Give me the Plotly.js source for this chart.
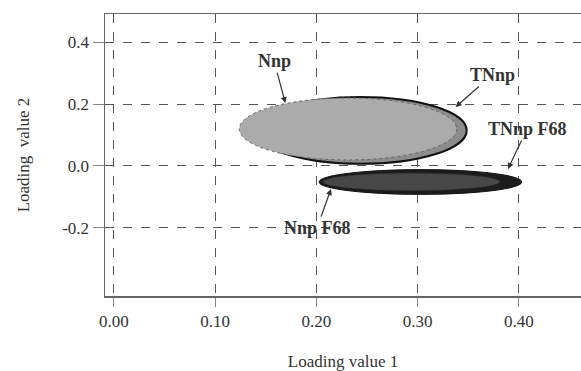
<!DOCTYPE html>
<html>
<head>
<meta charset="utf-8">
<script src="https://cdn.plot.ly/plotly-3.0.1.min.js"></script>
<style>html,body{margin:0;padding:0;background:#fff;}#chart{width:581px;height:371px;}</style>
</head>
<body>
<div id="chart"></div>
<script>
// Ellipse groups (drawn back to front)
var groupNames   = ["TNnp", "Nnp", "TNnp F68", "Nnp F68"];
var centerX      = [0.2439, 0.2312, 0.3027, 0.2939];
var centerY      = [0.115, 0.1196, -0.0517, -0.0512];
var halfWidth    = [0.1045, 0.1074, 0.1001, 0.0874];
var halfHeight   = [0.108, 0.100, 0.040, 0.0286];

// Labels with arrows: label position and arrow tip
var labelText = ["Nnp", "TNnp", "TNnp F68", "Nnp F68"];
var labelX    = [0.1582, 0.3734, 0.4080, 0.2006];
var labelY    = [0.339, 0.294, 0.1195, -0.2003];
var tipX      = [0.1693, 0.3374, 0.3892, 0.2144];
var tipY      = [0.2036, 0.1906, -0.0097, -0.0743];

// Tick labels
var xTickVals = [0.00, 0.10, 0.20, 0.30, 0.40];
var xTickText = ["0.00", "0.10", "0.20", "0.30", "0.40"];
var yTickVals = [-0.2, 0.0, 0.2, 0.4];
var yTickText = ["-0.2", "0.0", "0.2", "0.4"];

var fills  = ["#8c8c8c", "#ababab", "#1c1c1c", "#474747"];
var lines  = ["#111111", "#666666", "#111111", "#2a2a2a"];
var widths = [2, 1, 1, 0.5];
var dashes = ["solid", "dot", "solid", "solid"];

var shapes = groupNames.map(function (n, i) {
  return {
    type: "circle", xref: "x", yref: "y", layer: "above",
    x0: centerX[i] - halfWidth[i], x1: centerX[i] + halfWidth[i],
    y0: centerY[i] - halfHeight[i], y1: centerY[i] + halfHeight[i],
    fillcolor: fills[i],
    line: {color: lines[i], width: widths[i], dash: dashes[i]}
  };
});

var annotations = labelText.map(function (t, i) {
  return {
    text: "<b>" + t + "</b>", x: tipX[i], y: tipY[i], xref: "x", yref: "y",
    ax: labelX[i], ay: labelY[i], axref: "x", ayref: "y",
    showarrow: true, arrowhead: 2, arrowsize: 1, arrowwidth: 1.2, arrowcolor: "#333",
    font: {family: "Liberation Serif, Times New Roman, serif", size: 18, color: "#333"}
  };
});

var axisFont = {family: "Liberation Serif, Times New Roman, serif", size: 17, color: "#333"};

var layout = {
  width: 581, height: 371,
  margin: {l: 105, r: 0, t: 14, b: 75},
  paper_bgcolor: "#fff", plot_bgcolor: "#fff",
  showlegend: false,
  xaxis: {
    range: [-0.0088, 0.4613], tickvals: xTickVals, ticktext: xTickText,
    showgrid: true, gridcolor: "#555", griddash: "dash", gridwidth: 1,
    zeroline: false, showline: true, linecolor: "#666", linewidth: 1.5, mirror: true,
    ticks: "outside", ticklen: 9, tickcolor: "#888", tickwidth: 1,
    tickfont: axisFont,
    title: {text: "Loading value 1", font: axisFont, standoff: 28}
  },
  yaxis: {
    range: [-0.42, 0.491], tickvals: yTickVals, ticktext: yTickText,
    showgrid: true, gridcolor: "#555", griddash: "dash", gridwidth: 1,
    zeroline: false, showline: true, linecolor: "#666", linewidth: 1.5, mirror: false,
    ticks: "outside", ticklen: 11, tickcolor: "#888", tickwidth: 1,
    tickfont: axisFont,
    title: {text: "Loading&nbsp;&nbsp;value 2", font: axisFont, standoff: 28}
  },
  shapes: shapes,
  annotations: annotations
};

Plotly.newPlot("chart", [{x: [], y: [], type: "scatter", mode: "markers"}], layout, {displayModeBar: false, staticPlot: true});
</script>
</body>
</html>
